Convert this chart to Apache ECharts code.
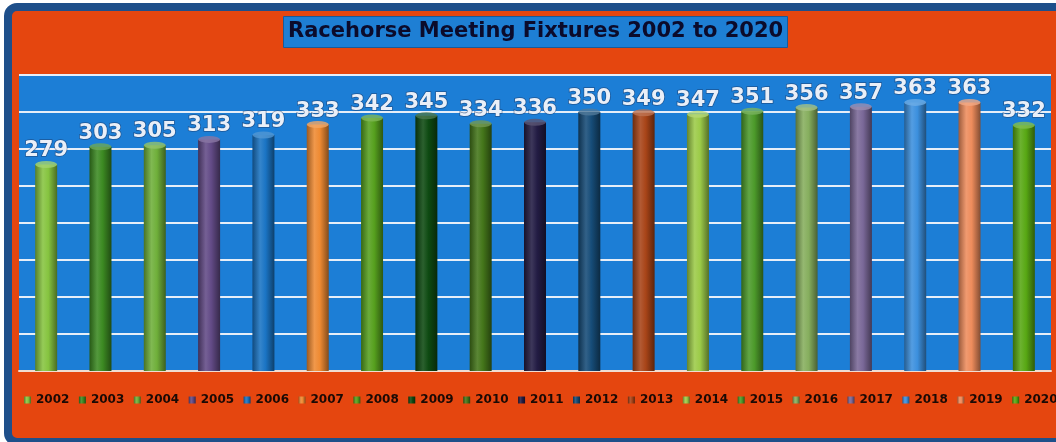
<!DOCTYPE html>
<html>
<head>
<meta charset="utf-8">
<script src="https://cdn.jsdelivr.net/npm/echarts@6/dist/echarts.min.js"></script>
<style>
html,body{margin:0;padding:0;background:#ffffff;}
#chart{width:1056px;height:442px;}
</style>
</head>
<body>
<div id="chart"></div>
<script>
var years = ['2002','2003','2004','2005','2006','2007','2008','2009','2010','2011','2012','2013','2014','2015','2016','2017','2018','2019','2020'];
var fixtures = [279,303,305,313,319,333,342,345,334,336,350,349,347,351,356,357,363,363,332];
var barColors = ['#86C440','#3C8A22','#6FAF3A','#624A86','#1A74C4','#EE8A32','#56A01E','#0E4A12','#44761A','#231C44','#164C78','#A84418','#9CCB48','#4C9A2A','#86AE5E','#7A6898','#3C90DE','#EE8C5C','#58A814'];
var yTicks = [0,50,100,150,200,250,300,350,400];

function shade(hex, f) {
  var n = parseInt(hex.slice(1), 16);
  var r = (n >> 16) & 255, g = (n >> 8) & 255, b = n & 255;
  function c(v) {
    v = f >= 0 ? v + (255 - v) * f : v * (1 + f);
    return Math.max(0, Math.min(255, Math.round(v)));
  }
  return 'rgb(' + c(r) + ',' + c(g) + ',' + c(b) + ')';
}
function cyl(hex) {
  return new echarts.graphic.LinearGradient(0, 0, 1, 0, [
    {offset: 0, color: shade(hex, -0.35)},
    {offset: 0.35, color: shade(hex, 0.12)},
    {offset: 0.6, color: hex},
    {offset: 1, color: shade(hex, -0.45)}
  ]);
}

var chart = echarts.init(document.getElementById('chart'));
var series = [];
years.forEach(function (y, i) {
  var d = years.map(function (_, j) { return j === i ? fixtures[j] : '-'; });
  series.push({
    name: y,
    type: 'bar',
    data: d,
    barWidth: 22,
    barGap: '-100%',
    itemStyle: {color: cyl(barColors[i])},
    label: {
      show: true,
      position: 'top',
      distance: 3,
      color: '#e9eff8',
      fontFamily: 'DejaVu Sans',
      fontWeight: 'bold',
      fontSize: 21,
      textBorderColor: 'rgba(30,50,90,0.55)',
      textBorderWidth: 1.5
    }
  });
});
series.push({
  name: 'caps',
  type: 'scatter',
  symbol: 'circle',
  symbolSize: [22, 7],
  silent: true,
  z: 3,
  data: fixtures.map(function (v, i) {
    return {value: v, itemStyle: {color: shade(barColors[i], 0.25)}};
  })
});

chart.setOption({
  animation: false,
  backgroundColor: '#ffffff',
  graphic: [{
    type: 'rect',
    z: -10,
    shape: {x: 8, y: 7, width: 1070, height: 435, r: 9},
    style: {fill: '#E5460F', stroke: '#1E4F8A', lineWidth: 8}
  }],
  title: {
    text: 'Racehorse Meeting Fixtures 2002 to 2020',
    left: 283,
    top: 17,
    padding: [5, 5, 5, 5],
    backgroundColor: '#1E7FD4',
    borderColor: '#1a5a98',
    borderWidth: 1,
    textStyle: {
      fontFamily: 'DejaVu Sans',
      fontWeight: 'bold',
      fontSize: 21,
      lineHeight: 20,
      color: '#0B0B2B'
    }
  },
  legend: {
    data: years,
    left: 24,
    top: 394,
    width: 1100,
    padding: 0,
    itemWidth: 7,
    itemHeight: 7,
    itemGap: 9.5,
    icon: 'rect',
    textStyle: {
      fontFamily: 'DejaVu Sans',
      fontWeight: 'bold',
      fontSize: 12,
      color: '#1a0a05'
    }
  },
  grid: {
    left: 19,
    right: 5,
    top: 75,
    bottom: 71,
    show: true,
    backgroundColor: '#1C7ED6',
    borderWidth: 0
  },
  xAxis: {
    type: 'category',
    data: years,
    axisLabel: {show: false},
    axisTick: {show: false},
    axisLine: {show: true, lineStyle: {color: '#f0ddd2', width: 2}}
  },
  yAxis: {
    type: 'value',
    min: yTicks[0],
    max: yTicks[yTicks.length - 1],
    interval: 50,
    axisLabel: {show: false},
    axisTick: {show: false},
    axisLine: {show: false},
    splitLine: {show: true, lineStyle: {color: '#e6eef8', width: 2}}
  },
  series: series
});
</script>
</body>
</html>
